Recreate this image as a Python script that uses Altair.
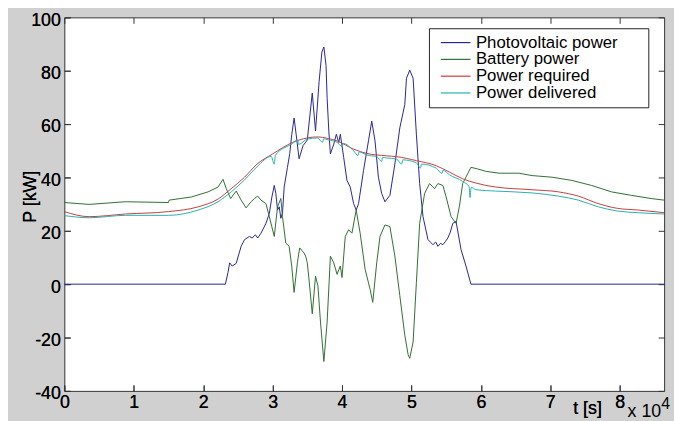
import altair as alt
import pandas as pd

# ---------------- data (t in seconds, P in kW) ----------------
SERIES = ["Photovoltaic power", "Battery power", "Power required", "Power delivered"]
COLORS = ["#25259a", "#2f6f2f", "#c83c3c", "#26b0b0"]

PV_T = [0, 23200, 23571, 23814, 24186, 24757, 25471, 25957, 26671, 27043, 27529, 27857,
        28329, 29043, 29529, 29900, 30243, 30471, 30714, 30957, 31186, 31429, 31671, 32143,
        32471, 32757, 33100, 33400, 33814, 34400, 35000, 35714, 36186, 36700, 37100, 37386,
        37700, 37857, 38100, 38329, 38814, 39186, 39529, 39757, 40243, 40714, 41186, 41671,
        42043, 42386, 43100, 43814, 44286, 44757, 45243, 45714, 46186, 46900, 47614, 48329,
        49043, 49286, 49757, 50243, 50714, 51186, 51671, 52386, 52800, 53100, 53500, 53814,
        54200, 54529, 54900, 55243, 55600, 55957, 56429, 57143, 57857, 58571, 86400]
PV_P = [0, 0, 4.3, 8.0, 6.8, 7.8, 14.2, 16.7, 17.9, 17.3, 18.5, 17.3,
        19.1, 22.8, 26.5, 32.7, 37.0, 34.0, 27.8, 29.0, 24.7, 26.7, 36.4, 43.8,
        48.9, 56.0, 62.3, 56.0, 47.0, 52.0, 54.0, 71.6, 57.4, 75.9, 87.0, 88.9,
        82.0, 69.7, 57.4, 48.8, 52.5, 56.2, 53.1, 56.2, 47.5, 38.9, 36.4, 30.2,
        27.8, 30.2, 42.6, 53.7, 61.1, 53.7, 40.1, 34.0, 30.9, 33.3, 45.0, 58.6,
        67.3, 77.2, 80.2, 77.2, 56.2, 37.7, 25.3, 16.7, 15.6, 14.8, 15.8, 14.2,
        15.3, 14.8, 16.0, 17.3, 19.5, 22.8, 23.5, 13.0, 6.8, 0, 0]

BAT_T = [0, 3571, 8814, 15000, 15100, 18329, 20714, 22143, 22857, 23329, 23957, 24757,
         25471, 26186, 26900, 27386, 27857, 28329, 29043, 29529, 30243, 30714, 31186, 31429,
         31900, 32386, 32757, 33100, 33571, 33900, 34529, 34757, 35000, 35243, 35714, 36186,
         36529, 36900, 37386, 37857, 38329, 38814, 39286, 39757, 40000, 40471, 40957, 41429,
         42043, 42614, 43329, 44043, 44429, 45000, 45471, 46186, 46900, 47614, 48329, 49043,
         49529, 49757, 50243, 50714, 51186, 51900, 52614, 53329, 53814, 54529, 55000, 55714,
         56429, 56900, 57386, 58100, 58571, 59529, 60714, 62614, 65471, 67386, 70243, 73100,
         75957, 78814, 81671, 84529, 86400]
BAT_P = [30.6, 29.9, 30.9, 30.6, 31.5, 32.7, 34.6, 36.4, 39.3, 35.8, 32.1, 34.9,
         31.5, 28.6, 30.9, 32.1, 33.0, 31.5, 30.2, 25.3, 17.9, 29.0, 32.1, 25.3,
         15.4, 14.2, 6.8, -3.1, 8.0, 13.6, 11.7, 10.5, 8.0, 1.9, -11.1, 3.0,
         -0.6, -14.2, -29.0, -14.2, 10.5, 8.0, 3.7, 6.8, 2.5, 17.9, 20.4, 19.1,
         27.8, 19.1, 5.6, -1.9, -6.8, 8.0, 17.9, 22.2, 21.6, 10.5, -4.3, -19.1,
         -26.5, -27.8, -21.6, 0.6, 22.8, 34.0, 37.7, 35.8, 37.7, 37.0, 32.7, 25.3,
         22.8, 29.0, 37.7, 41.4, 43.8, 43.2, 42.3, 41.6, 41.6, 40.7, 40.1, 38.9,
         37.0, 34.6, 33.3, 32.1, 31.5]

REQ_T = [0, 3571, 8814, 15000, 19286, 22143, 24043, 25957, 27757, 30000, 32857, 35000,
         36429, 38000, 39286, 41671, 43571, 46429, 47857, 50714, 53571, 55476, 57386, 59286,
         62143, 67386, 71186, 74043, 76900, 79714, 82614, 86400]
REQ_P = [27.2, 25.3, 26.3, 27.2, 29.0, 31.9, 35.8, 40.1, 45.0, 48.8, 53.1, 54.8,
         55.2, 54.6, 53.7, 50.6, 49.0, 48.1, 47.8, 46.3, 44.4, 42.0, 39.5, 37.9,
         36.4, 35.4, 34.6, 33.0, 30.2, 28.4, 27.8, 26.8]

DEL_T = [0, 3571, 8814, 15000, 19286, 22143, 24043, 25957, 27757, 29800, 30243, 30400,
         32857, 33600, 33750, 35000, 36429, 37200, 37350, 38000, 39286, 40000, 40150, 41671,
         42300, 42450, 43571, 45000, 45700, 45850, 46429, 47857, 48600, 48750, 50714, 51300,
         51450, 53571, 54400, 54550, 55476, 57386, 58300, 58450, 58600, 59286, 62143, 67386,
         71186, 74043, 76900, 79714, 82614, 86400]
DEL_P = [25.7, 24.9, 25.8, 25.8, 27.8, 30.9, 34.6, 39.1, 44.0, 47.9, 45.0, 48.3,
         52.7, 54.0, 52.4, 54.4, 54.8, 53.2, 54.5, 54.1, 53.2, 51.6, 52.8, 50.0,
         48.2, 49.6, 48.4, 47.8, 46.0, 47.5, 47.3, 46.9, 45.0, 46.6, 45.5, 43.5,
         45.0, 43.5, 41.5, 42.7, 41.0, 38.5, 36.6, 32.5, 36.3, 35.4, 34.9, 34.2,
         33.0, 31.5, 29.0, 27.4, 26.8, 26.3]

X_TICKS = [0, 10000, 20000, 30000, 40000, 50000, 60000, 70000, 80000]
Y_TICKS = [-40, -20, 0, 20, 40, 60, 80, 100]

# ---------------- build table ----------------
rows = []
for name, T, P in [(SERIES[0], PV_T, PV_P), (SERIES[1], BAT_T, BAT_P),
                   (SERIES[2], REQ_T, REQ_P), (SERIES[3], DEL_T, DEL_P)]:
    assert len(T) == len(P), name
    for t, p in zip(T, P):
        rows.append({"series": name, "t": t, "P": p})
df = pd.DataFrame(rows)

W, H = 607, 378
FONT = "Liberation Sans"
PAD_BLANK = "\u2800" * 2   # blank glyphs widen the legend box like MATLAB's

xs = alt.Scale(domain=[0, 86400], nice=False, zero=False)
ys = alt.Scale(domain=[-40, 100], nice=False)
cs = alt.Scale(domain=SERIES, range=COLORS)

legend = alt.Legend(orient="none", legendX=369, legendY=11, title=None,
                    symbolType="M-4,0H4", symbolSize=56.25, symbolStrokeWidth=1.2,
                    symbolOffset=12.5,
                    labelFontSize=17, labelFont=FONT, labelColor="black",
                    labelOffset=12, labelLimit=400,
                    labelExpr="datum.label + '" + PAD_BLANK + "'",
                    fillColor="white", strokeColor="#222", padding=6, rowPadding=-1)

x_axis = alt.Axis(orient="bottom", values=X_TICKS, labelExpr="'' + (datum.value / 10000)",
                  offset=-6, tickSize=6, domain=False, grid=False, labelFlush=False,
                  labelFontSize=18, labelFont=FONT, labelColor="black", labelPadding=3,
                  tickColor="#333", title="t [s]", titleFont=FONT, titleFontSize=18,
                  titleFontWeight="normal", titleColor="black", titleX=529, titleY=29,
                  titleAlign="center", titleBaseline="alphabetic")
y_axis = alt.Axis(orient="left", values=Y_TICKS, labelExpr="'' + datum.value",
                  offset=-6, tickSize=6, domain=False, labelFlush=False,
                  grid=False, labelFontSize=18, labelFont=FONT, labelColor="black",
                  labelPadding=4, labelOffset=3, tickColor="#333",
                  title="P [kW]", titleFont=FONT, titleFontSize=18, titleFontWeight="normal",
                  titleColor="black", titleAngle=270, titleX=-35, titleY=181,
                  titleAlign="center", titleBaseline="alphabetic")

x_top = alt.Axis(orient="top", values=X_TICKS, offset=-6, tickSize=6, domain=False,
                 grid=False, labels=False, title=None, tickColor="#333")
y_right = alt.Axis(orient="right", values=Y_TICKS, offset=-6, tickSize=6, domain=False,
                   grid=False, labels=False, title=None, tickColor="#333")

lin = alt.Chart(df).transform_filter(
    alt.FieldOneOfPredicate(field="series", oneOf=SERIES[:2])
).mark_line(strokeWidth=1, interpolate="linear").encode(
    x=alt.X("t:Q", scale=xs, axis=x_axis),
    y=alt.Y("P:Q", scale=ys, axis=y_axis),
    color=alt.Color("series:N", scale=cs, legend=legend),
)

smooth = alt.Chart(df).transform_filter(
    alt.FieldOneOfPredicate(field="series", oneOf=SERIES[2:])
).mark_line(strokeWidth=1, interpolate="monotone").encode(
    x=alt.X("t:Q", scale=xs, axis=x_axis),
    y=alt.Y("P:Q", scale=ys, axis=y_axis),
    color=alt.Color("series:N", scale=cs, legend=legend),
)

frame_ticks = alt.Chart(df).mark_line(opacity=0).encode(
    x=alt.X("t:Q", scale=xs, axis=x_top),
    y=alt.Y("P:Q", scale=ys, axis=y_right),
    detail="series:N",
)

mult = alt.Chart(pd.DataFrame({"txt": ["x 10"]})).mark_text(
    font=FONT, fontSize=18, align="left", baseline="alphabetic", color="black"
).encode(x=alt.value(570), y=alt.value(404), text="txt:N")

expo = alt.Chart(pd.DataFrame({"txt": ["4"]})).mark_text(
    font=FONT, fontSize=16, align="left", baseline="alphabetic", color="black"
).encode(x=alt.value(604), y=alt.value(396), text="txt:N")

chart = alt.layer(lin, smooth, frame_ticks, mult, expo).resolve_axis(
    x="independent", y="independent"
).properties(
    width=W, height=H,
    autosize=alt.AutoSizeParams(type="none"),
    padding={"left": 57, "top": 7, "right": 10, "bottom": 30},
    background="#d0d0d0",
).configure_view(
    stroke="#333", strokeWidth=1, fill="white"
)

chart.save("out.html", embed_options={"renderer": "svg", "actions": False})
